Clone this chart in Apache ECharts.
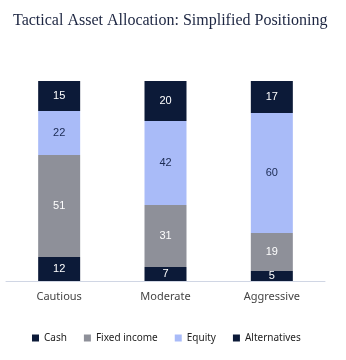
<!DOCTYPE html>
<html><head><meta charset="utf-8">
<script src="https://cdn.jsdelivr.net/npm/echarts@6/dist/echarts.min.js"></script>
<style>html,body{margin:0;padding:0;background:#fff}#c{width:346px;height:360px}</style>
</head><body><div id="c"></div>
<script>
const categories = ['Cautious', 'Moderate', 'Aggressive'];
const cash = [12, 7, 5];
const fixedIncome = [51, 31, 19];
const equity = [22, 42, 60];
const alternatives = [15, 20, 17];
const seriesNames = ['Cash', 'Fixed income', 'Equity', 'Alternatives'];

const colors = ['#0c1a38', '#8e9099', '#a9bbf8', '#0c1a38'];
const labelColors = ['#ffffff', '#ffffff', '#1b2a52', '#ffffff'];
const dataSets = [cash, fixedIncome, equity, alternatives];

const chart = echarts.init(document.getElementById('c'));
chart.setOption({
  animation: false,
  title: {
    text: 'Tactical Asset Allocation: Simplified Positioning',
    left: 8, top: 8,
    textStyle: { fontFamily: 'Liberation Serif', fontSize: 16, fontWeight: 'normal', color: '#1c2541' }
  },
  legend: {
    data: seriesNames,
    left: 27, top: 328,
    itemWidth: 7, itemHeight: 7, itemGap: 17,
    icon: 'rect',
    textStyle: { fontFamily: 'Noto Sans', fontSize: 10, color: '#222' }
  },
  grid: { left: 6, right: 21, top: 81, bottom: 79 },
  xAxis: {
    type: 'category', data: categories,
    axisLine: { lineStyle: { color: '#d0d6e4' } },
    axisTick: { show: false },
    axisLabel: { fontFamily: 'Noto Sans', fontSize: 11, color: '#444', margin: 10 }
  },
  yAxis: { type: 'value', min: 0, max: 100, show: false, splitLine: { show: false } },
  series: dataSets.map((d, i) => ({
    name: seriesNames[i], type: 'bar', stack: 'total', data: d,
    barWidth: 42, clip: true,
    itemStyle: { color: colors[i] },
    label: { show: true, position: 'inside', color: labelColors[i], fontFamily: 'Liberation Sans', fontSize: 11 }
  }))
});
</script></body></html>
